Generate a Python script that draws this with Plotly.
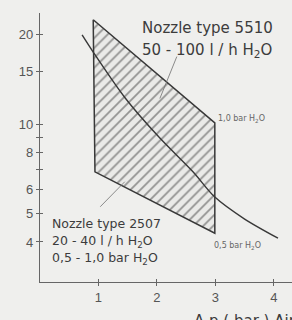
import plotly.graph_objects as go

# Operating region of nozzle type 5510 (hatched), corners: x = Δp air (bar), y = flow
region_x = [0.91, 2.99, 2.99, 0.94, 0.91]
region_y = [22.5, 10.1, 4.28, 6.9, 22.5]

# 0.5 bar H2O curve
curve_x = [0.72, 0.91, 1.45, 2.05, 2.62, 2.99, 3.50, 4.07]
curve_y = [20.0, 17.5, 12.3, 8.97, 6.89, 5.67, 4.78, 4.12]

# leader lines from the labels
leader_5510_x = [2.34, 2.05]
leader_5510_y = [16.9, 12.2]
leader_2507_x = [1.03, 1.45]
leader_2507_y = [5.26, 6.39]

y_label_vals = [4, 5, 6, 8, 10, 15, 20]
y_label_text = ["4", "5", "6", "8", "10", "15", "20"]
y_minor_vals = [7, 9]
y_all_vals = [4, 5, 6, 7, 8, 9, 10, 15, 20]
x_tickvals = [1, 2, 3, 4]
x_ticktext = ["1", "2", "3", "4"]

BG = "#efefed"
DARK = "#383838"
AX = "#666666"

fig = go.Figure()

fig.add_trace(go.Scatter(
    x=region_x, y=region_y, mode="lines", fill="toself",
    line=dict(color=DARK, width=1.5),
    fillcolor="#e6e6e4",
    fillpattern=dict(shape="/", size=7, solidity=0.25, fgcolor="#3a3a3a", bgcolor="#eaeae8"),
    hoverinfo="skip", showlegend=False))

fig.add_trace(go.Scatter(
    x=curve_x, y=curve_y, mode="lines",
    line=dict(color=DARK, width=1.4, shape="spline", smoothing=0.8),
    hoverinfo="skip", showlegend=False))

for lx, ly in [(leader_5510_x, leader_5510_y), (leader_2507_x, leader_2507_y)]:
    fig.add_trace(go.Scatter(x=lx, y=ly, mode="lines",
                             line=dict(color="#707070", width=0.8),
                             hoverinfo="skip", showlegend=False))

tickfont = dict(family="Liberation Sans, Arial, sans-serif", size=13, color="#555555")

common = dict(showgrid=False, zeroline=False)
fig.update_layout(
    width=292, height=320,
    margin=dict(l=40, r=0, t=13, b=38, pad=0),
    paper_bgcolor=BG, plot_bgcolor=BG,
    xaxis=dict(range=[0, 4.31], tickmode="array", tickvals=x_tickvals, ticktext=x_ticktext,
               showline=True, linecolor=AX, linewidth=1.2,
               ticks="outside", ticklen=3, tickcolor=AX, tickfont=tickfont, **common),
    yaxis=dict(type="log", range=[0.467, 1.375], tickmode="array",
               tickvals=y_label_vals, ticktext=y_label_text,
               showline=True, linecolor=AX, linewidth=1.2,
               ticks="outside", ticklen=3, tickcolor=AX, tickfont=tickfont, **common),
    xaxis2=dict(overlaying="x", matches="x", anchor="y", side="bottom",
                tickmode="array", tickvals=x_tickvals, showticklabels=False, showline=False,
                ticks="inside", ticklen=3, tickcolor=AX, **common),
    yaxis2=dict(overlaying="y", matches="y", type="log", anchor="x", side="left",
                tickmode="array", tickvals=y_all_vals, showticklabels=False, showline=False,
                ticks="inside", ticklen=3, tickcolor=AX, **common),
    yaxis3=dict(overlaying="y", matches="y", type="log", anchor="x", side="left",
                tickmode="array", tickvals=y_minor_vals, showticklabels=False, showline=False,
                ticks="outside", ticklen=3, tickcolor=AX, **common),
    showlegend=False,
)

# empty traces to activate overlay axes
fig.add_trace(go.Scatter(x=[None], y=[None], xaxis="x2", yaxis="y2", showlegend=False,
                         hoverinfo="skip"))
fig.add_trace(go.Scatter(x=[None], y=[None], xaxis="x", yaxis="y3", showlegend=False,
                         hoverinfo="skip"))

big = dict(family="DejaVu Sans, sans-serif", size=15, color="#3c3c3c")
mid = dict(family="DejaVu Sans, sans-serif", size=12.5, color="#3c3c3c")
small = dict(family="DejaVu Sans, sans-serif", size=8, color="#666666")

def ann(text, x, y, font, xanchor="left", yanchor="middle"):
    fig.add_annotation(text=text, x=x, y=y, xref="paper", yref="paper",
                       xanchor=xanchor, yanchor=yanchor, showarrow=False, font=font)

ann("Nozzle type 5510", 0.397, 0.944, big)
ann("50 - 100 l / h H<sub>2</sub>O", 0.397, 0.862, big)
ann("Nozzle type 2507", 0.04, 0.219, mid)
ann("20 - 40 l / h H<sub>2</sub>O", 0.04, 0.152, mid)
ann("0,5 - 1,0 bar H<sub>2</sub>O", 0.04, 0.089, mid)
ann("1,0 bar H<sub>2</sub>O", 0.698, 0.606, small)
ann("0,5 bar H<sub>2</sub>O", 0.683, 0.134, small)
ann("\u0394 p ( bar ) Air", 0.603, -0.104,
    dict(family="DejaVu Sans, sans-serif", size=15, color="#3c3c3c"), yanchor="top")

fig.write_html(
    "out.html",
    config={"displayModeBar": False},
    post_script="document.body.style.margin='0';document.body.style.background='#efefed';"
                "document.documentElement.style.background='#efefed';",
)
